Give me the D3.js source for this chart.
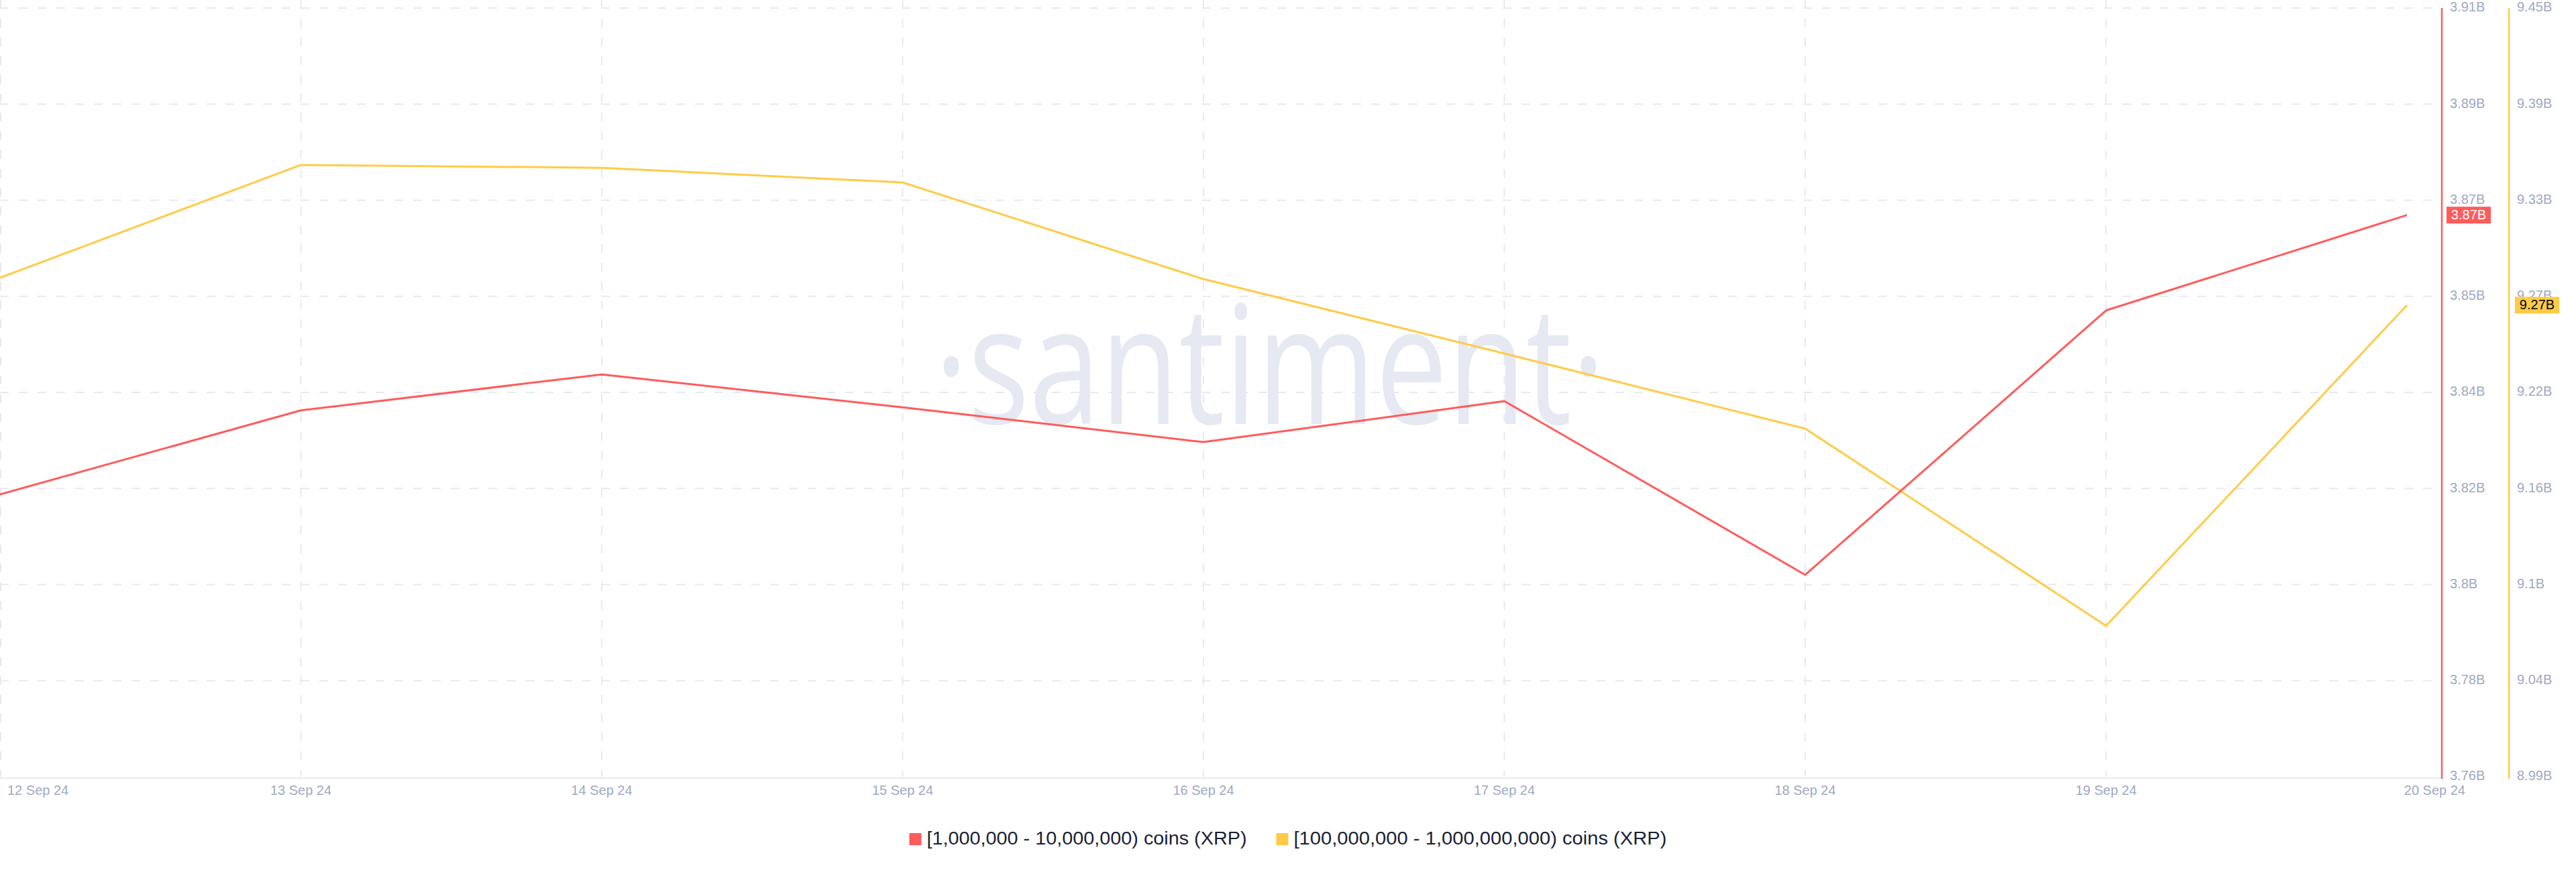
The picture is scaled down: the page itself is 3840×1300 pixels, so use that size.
<!DOCTYPE html>
<html>
<head>
<meta charset="utf-8">
<script src="https://cdn.jsdelivr.net/npm/d3@7"></script>
<style>
  html, body { margin: 0; padding: 0; background: #fff; }
  svg { display: block; }
</style>
</head>
<body>
<svg id="chart" width="3840" height="1300"></svg>
<script>
// ---- data ----
const dates = ["12 Sep 24", "13 Sep 24", "14 Sep 24", "15 Sep 24", "16 Sep 24", "17 Sep 24", "18 Sep 24", "19 Sep 24", "20 Sep 24"];
const redValues = [3.8151, 3.8315, 3.8385, 3.8321, 3.8253, 3.8333, 3.7994, 3.8510, 3.8696];      // billions
const yellowValues = [9.2859, 9.3537, 9.3520, 9.3432, 9.2851, 9.2404, 9.1952, 9.0767, 9.2694]; // billions
const redDomain = [3.76, 3.91];
const yellowDomain = [8.986, 9.448];
const redTickLabels = ["3.76B", "3.78B", "3.8B", "3.82B", "3.84B", "3.85B", "3.87B", "3.89B", "3.91B"];
const yellowTickLabels = ["8.99B", "9.04B", "9.1B", "9.16B", "9.22B", "9.27B", "9.33B", "9.39B", "9.45B"];
const seriesNames = ["[1,000,000 - 10,000,000) coins (XRP)", "[100,000,000 - 1,000,000,000) coins (XRP)"];
const redLast = "3.87B";
const yellowLast = "9.27B";

// ---- layout ----
const RED = "#ff5b5b", YEL = "#ffcb47", GRID = "#e6e9f2", TICK = "#9fa8c4";
const FONT = "'Liberation Sans', Arial, Helvetica, sans-serif";
const plotTop = 12, plotBottom = 1158, plotRight = 3640, yAxisX = 3740, lastX = 3588;

const svg = d3.select("#chart").style("font-family", FONT);

const x = d3.scalePoint().domain(dates).range([0, lastX]);
const yR = d3.scaleLinear().domain(redDomain).range([plotBottom, plotTop]);
const yY = d3.scaleLinear().domain(yellowDomain).range([plotBottom, plotTop]);

const nT = redTickLabels.length;
const redTickVals = d3.range(nT).map(i => redDomain[0] + i * (redDomain[1] - redDomain[0]) / (nT - 1));
const yelTickVals = d3.range(nT).map(i => yellowDomain[0] + i * (yellowDomain[1] - yellowDomain[0]) / (nT - 1));

// watermark
svg.append("text")
  .attr("x", 1893).attr("y", 632)
  .attr("text-anchor", "middle")
  .attr("font-family", "'Open Sans', 'Noto Sans', sans-serif")
  .attr("font-size", 245)
  .attr("fill", "#e6e8f2")
  .attr("textLength", 1000)
  .attr("lengthAdjust", "spacingAndGlyphs")
  .text("·santiment·");

// horizontal grid
svg.append("g").selectAll("line")
  .data(redTickVals.slice(1))
  .join("line")
  .attr("x1", 0).attr("x2", plotRight)
  .attr("y1", d => yR(d)).attr("y2", d => yR(d))
  .attr("stroke", GRID).attr("stroke-width", 2)
  .attr("stroke-dasharray", "13,15");

// vertical grid
svg.append("g").selectAll("line")
  .data(dates.slice(0, -1))
  .join("line")
  .attr("x1", d => x(d) + (x(d) === 0 ? 1 : 0)).attr("x2", d => x(d) + (x(d) === 0 ? 1 : 0))
  .attr("y1", 0).attr("y2", plotBottom)
  .attr("stroke", GRID).attr("stroke-width", 2)
  .attr("stroke-dasharray", "13,15");

// bottom axis line
svg.append("line")
  .attr("x1", 0).attr("x2", plotRight)
  .attr("y1", plotBottom + 2).attr("y2", plotBottom + 2)
  .attr("stroke", GRID).attr("stroke-width", 2);

// x labels
svg.append("g").selectAll("text")
  .data(dates)
  .join("text")
  .attr("x", (d, i) => i === 0 ? 11 : (i === dates.length - 1 ? 3675 : x(d)))
  .attr("y", 1180)
  .attr("text-anchor", (d, i) => i === 0 ? "start" : (i === dates.length - 1 ? "end" : "middle"))
  .attr("dominant-baseline", "middle")
  .attr("font-size", 20)
  .attr("fill", TICK)
  .text(d => d);

// right axes lines
svg.append("line").attr("x1", plotRight).attr("x2", plotRight).attr("y1", plotTop).attr("y2", plotBottom + 3)
  .attr("stroke", RED).attr("stroke-width", 2.5);
svg.append("line").attr("x1", yAxisX).attr("x2", yAxisX).attr("y1", plotTop).attr("y2", plotBottom + 3)
  .attr("stroke", YEL).attr("stroke-width", 2.5);

// tick labels
svg.append("g").selectAll("text")
  .data(redTickVals)
  .join("text")
  .attr("x", plotRight + 12).attr("y", d => yR(d))
  .attr("dominant-baseline", "middle")
  .attr("font-size", 20).attr("fill", TICK)
  .text((d, i) => redTickLabels[i]);
svg.append("g").selectAll("text")
  .data(yelTickVals)
  .join("text")
  .attr("x", yAxisX + 12).attr("y", d => yY(d))
  .attr("dominant-baseline", "middle")
  .attr("font-size", 20).attr("fill", TICK)
  .text((d, i) => yellowTickLabels[i]);

// lines
const lineR = d3.line().x((d, i) => x(dates[i])).y(d => yR(d));
const lineY = d3.line().x((d, i) => x(dates[i])).y(d => yY(d));
svg.append("path").datum(yellowValues).attr("d", lineY)
  .attr("fill", "none").attr("stroke", YEL).attr("stroke-width", 3).attr("stroke-linejoin", "round");
svg.append("path").datum(redValues).attr("d", lineR)
  .attr("fill", "none").attr("stroke", RED).attr("stroke-width", 3).attr("stroke-linejoin", "round");

// last value badges
function badge(xLeft, yC, w, fill, color, label) {
  svg.append("rect").attr("x", xLeft).attr("y", yC - 12.5).attr("width", w).attr("height", 25).attr("fill", fill);
  svg.append("text").attr("x", xLeft + w / 2).attr("y", yC + 1)
    .attr("text-anchor", "middle").attr("dominant-baseline", "middle")
    .attr("font-size", 20).attr("fill", color).text(label);
}
badge(plotRight + 7, yR(redValues[redValues.length - 1]), 66, RED, "#ffffff", redLast);
badge(yAxisX + 9, yY(yellowValues[yellowValues.length - 1]), 66, YEL, "#000000", yellowLast);

// legend
const legend = svg.append("g").attr("transform", "translate(0,1251)");
const colors = [RED, YEL];
const legendTextWidths = [477, 556];
const items = [];
seriesNames.forEach((name, i) => {
  const g = legend.append("g");
  g.append("rect").attr("x", 0).attr("y", -9).attr("width", 18).attr("height", 18).attr("fill", colors[i]);
  g.append("text").attr("x", 26).attr("y", 1).attr("dominant-baseline", "middle")
    .attr("font-size", 27).attr("fill", "#1a1f36")
    .attr("textLength", legendTextWidths[i]).attr("lengthAdjust", "spacingAndGlyphs")
    .text(name);
  items.push({ g, w: 26 + legendTextWidths[i] });
});
const gap = 44;
const total = items.reduce((s, it) => s + it.w, 0) + gap * (items.length - 1);
let lx = 1920 - total / 2;
items.forEach(it => { it.g.attr("transform", `translate(${lx},0)`); lx += it.w + gap; });
</script>
</body>
</html>
